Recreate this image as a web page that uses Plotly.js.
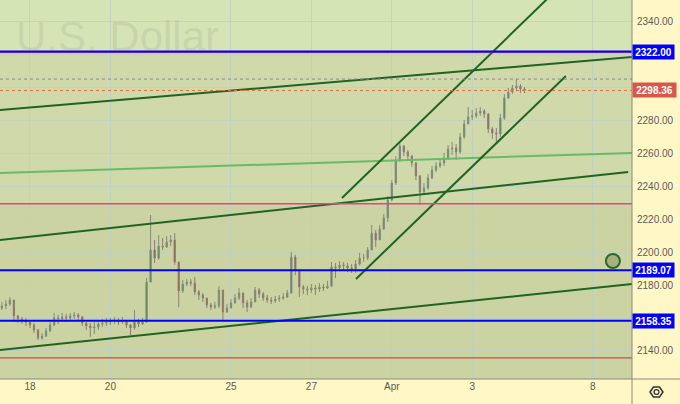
<!DOCTYPE html>
<html><head><meta charset="utf-8">
<script src="https://cdn.plot.ly/plotly-3.0.1.min.js"></script>
<style>html,body{margin:0;padding:0;background:#fff8c6}#chart{width:680px;height:404px}</style>
</head><body><div id="chart"></div>
<script>
// ---- axis ticks ----
const dayTicks = [0, 2, 5, 7, 9, 11, 14];
const dayLabels = ['18', '20', '25', '27', 'Apr', '3', '8'];
const priceTicks = [2140, 2160, 2180, 2200, 2220, 2240, 2260, 2280, 2300, 2320, 2340];
const hiddenPriceTicks = [2160, 2300, 2320];

// ---- candles (trading-day index time axis) ----
const startDay = -0.7, barStep = 0.1;
const open = [2166.1,2167.4,2168.6,2171.0,2161.3,2159.5,2158.2,2157.6,2155.8,2152.8,
 2147.9,2149.1,2152.2,2155.8,2160.1,2159.5,2160.7,2160.1,2161.3,2161.9,
 2160.7,2157.0,2155.2,2154.0,2154.6,2156.4,2157.0,2157.6,2158.2,2158.8,
 2157.6,2158.2,2155.8,2154.0,2157.6,2156.4,2157.6,2181.9,2201.4,2196.5,
 2203.8,2203.2,2206.3,2207.5,2194.1,2176.5,2180.7,2181.9,2181.3,2175.9,
 2174.0,2172.2,2168.0,2166.7,2167.4,2177.1,2163.7,2166.1,2169.2,2172.2,
 2175.3,2169.2,2166.7,2169.8,2177.1,2174.6,2172.2,2171.0,2170.4,2171.6,
 2172.2,2172.8,2175.3,2197.1,2189.2,2178.9,2177.7,2177.1,2178.3,2177.7,
 2178.9,2178.3,2179.5,2191.1,2190.5,2192.3,2191.7,2190.5,2189.2,2192.9,
 2196.5,2196.5,2201.4,2211.7,2207.5,2214.2,2220.9,2231.8,2242.1,2256.1,
 2264.6,2261.0,2258.5,2254.3,2246.4,2236.7,2239.1,2245.2,2250.0,2252.5,
 2254.3,2257.3,2262.8,2263.4,2261.0,2270.1,2278.0,2282.3,2282.9,2284.7,
 2285.9,2284.1,2275.0,2272.5,2271.9,2281.6,2293.8,2297.4,2299.9,2301.1,
 2299.3];
const high = [2169.8,2171.0,2172.8,2171.0,2161.9,2160.7,2160.1,2158.8,2157.0,2153.4,
 2150.9,2154.0,2157.6,2163.1,2161.9,2163.1,2162.5,2163.1,2163.7,2163.1,
 2161.3,2157.6,2157.0,2157.6,2158.8,2159.5,2160.1,2160.1,2160.7,2160.1,
 2160.7,2158.8,2156.4,2164.9,2159.5,2160.1,2184.4,2222.7,2207.5,2210.5,
 2208.7,2209.9,2210.5,2211.7,2194.1,2183.2,2183.8,2183.8,2185.0,2177.1,
 2175.3,2172.2,2169.2,2169.8,2179.5,2177.1,2168.6,2171.6,2174.6,2178.3,
 2175.3,2171.0,2172.2,2178.9,2178.3,2175.9,2174.0,2172.8,2173.4,2174.0,
 2175.3,2177.1,2200.2,2198.4,2189.2,2180.1,2179.5,2180.7,2180.1,2181.3,
 2180.7,2182.6,2194.1,2193.5,2194.7,2194.1,2193.5,2192.9,2195.3,2199.6,
 2199.0,2203.2,2216.6,2213.6,2216.6,2223.3,2234.2,2243.9,2258.5,2266.4,
 2265.2,2262.2,2259.2,2254.9,2247.0,2242.1,2247.6,2252.5,2254.9,2257.3,
 2260.4,2265.2,2267.1,2265.8,2272.5,2280.4,2288.3,2286.5,2287.7,2288.3,
 2287.1,2284.7,2276.2,2275.6,2284.1,2296.2,2299.9,2301.7,2305.3,2302.3,
 2300.5];
const low = [2164.9,2165.5,2167.4,2157.6,2157.0,2156.4,2155.2,2154.0,2150.9,2146.7,
 2146.7,2148.5,2151.5,2155.2,2156.4,2157.6,2157.6,2158.8,2159.5,2158.8,
 2155.2,2152.8,2148.5,2150.3,2152.8,2154.6,2155.2,2155.8,2156.4,2155.8,
 2156.4,2154.0,2149.7,2153.0,2154.6,2155.8,2157.0,2181.9,2193.5,2195.5,
 2201.4,2202.6,2203.8,2192.3,2166.7,2175.3,2179.5,2179.5,2174.0,2171.0,
 2169.8,2166.1,2164.9,2165.5,2166.1,2158.8,2163.1,2166.1,2168.6,2171.0,
 2166.1,2163.7,2166.1,2169.8,2172.2,2170.4,2169.2,2168.6,2169.2,2169.8,
 2171.0,2172.2,2174.6,2186.2,2172.8,2174.6,2174.0,2175.3,2174.0,2175.9,
 2176.5,2177.7,2178.9,2184.4,2189.2,2189.2,2188.0,2187.4,2187.4,2192.0,
 2194.1,2195.3,2201.4,2203.2,2207.5,2213.6,2218.4,2231.0,2240.9,2254.9,
 2258.5,2256.1,2251.9,2243.9,2228.8,2235.4,2237.9,2244.5,2248.8,2251.2,
 2252.5,2256.1,2259.1,2256.1,2259.8,2268.9,2278.0,2280.4,2281.6,2282.9,
 2281.6,2272.5,2268.9,2267.1,2270.1,2280.4,2293.2,2296.2,2298.1,2296.8,
 2296.8];
const close = [2167.4,2168.6,2171.0,2161.3,2159.5,2158.2,2157.6,2155.8,2152.8,2147.9,
 2149.1,2152.2,2155.8,2160.1,2159.5,2160.7,2160.1,2161.3,2161.9,2160.7,
 2157.0,2155.2,2154.0,2154.6,2156.4,2157.0,2157.6,2158.2,2158.8,2157.6,
 2158.2,2155.8,2154.0,2157.6,2156.4,2157.6,2181.9,2201.4,2196.5,2203.8,
 2203.2,2206.3,2207.5,2194.1,2176.5,2180.7,2181.9,2181.3,2175.9,2174.0,
 2172.2,2168.0,2166.7,2167.4,2177.1,2163.7,2166.1,2169.2,2172.2,2175.3,
 2169.2,2166.7,2169.8,2177.1,2174.6,2172.2,2171.0,2170.4,2171.6,2172.2,
 2172.8,2175.3,2197.1,2189.2,2178.9,2177.7,2177.1,2178.3,2177.7,2178.9,
 2178.3,2179.5,2191.1,2190.5,2192.3,2191.7,2190.5,2189.2,2192.9,2196.5,
 2196.5,2201.4,2211.7,2207.5,2214.2,2220.9,2231.8,2242.1,2256.1,2264.6,
 2261.0,2258.5,2254.3,2246.4,2236.7,2239.1,2245.2,2250.0,2252.5,2254.3,
 2257.3,2262.8,2263.4,2261.0,2270.1,2278.0,2282.3,2282.9,2284.7,2285.9,
 2284.1,2275.0,2272.5,2271.9,2281.6,2293.8,2297.4,2299.9,2301.1,2299.3,
 2298.36];

// ---- horizontal levels ----
const blueLevels = [2322.00, 2189.07, 2158.35];
const pinkLevel = 2229.5;
const redLevel = 2135.8;
const sessionHigh = 2305.3;
const lastPrice = 2298.36;
const zoneTop = 2322.00;

// ---- trend lines [day, price] endpoints ----
const wideTopX = [-0.75, 14.98], wideTopY = [2286.5, 2318.7];
const wideMidX = [-0.75, 14.88], wideMidY = [2207.5, 2248.8];
const wideLowX = [-0.75, 14.98], wideLowY = [2140.6, 2180.7];
const lightX = [-0.75, 14.98], lightY = [2248.2, 2260.4];
const steepTopX = [7.76, 12.95], steepTopY = [2233.0, 2356.0];
const steepLowX = [8.11, 13.33], steepLowY = [2183.8, 2307.2];
const markerX = [14.5], markerY = [2194.7];

const barX = open.map((_, i) => +(startDay + i * barStep).toFixed(2));

const dark = '#1f6422';
const traces = [
  {type:'candlestick', x: barX, open, high, low, close,
   increasing:{line:{color:'#858c7c', width:1}, fillcolor:'#3f8a4a'},
   decreasing:{line:{color:'#8c8076', width:1}, fillcolor:'#9a4636'},
   whiskerwidth:0, hoverinfo:'skip', showlegend:false},
  {type:'scatter', mode:'lines', x: lightX, y: lightY, line:{color:'#69bb69', width:2}, showlegend:false},
  {type:'scatter', mode:'lines', x: wideTopX, y: wideTopY, line:{color:dark, width:2}, showlegend:false},
  {type:'scatter', mode:'lines', x: wideMidX, y: wideMidY, line:{color:dark, width:2}, showlegend:false},
  {type:'scatter', mode:'lines', x: wideLowX, y: wideLowY, line:{color:dark, width:2}, showlegend:false},
  {type:'scatter', mode:'lines', x: steepTopX, y: steepTopY, line:{color:dark, width:2}, showlegend:false},
  {type:'scatter', mode:'lines', x: steepLowX, y: steepLowY, line:{color:dark, width:2}, showlegend:false},
  {type:'scatter', mode:'markers', x: markerX, y: markerY,
   marker:{size:14, color:'#a5b27c', line:{color:'#2a6a2a', width:2}}, showlegend:false}
];

const shapes = [
  {type:'rect', xref:'paper', x0:0, x1:1, yref:'y', y0:zoneTop, y1:2400, fillcolor:'#d5e4b5', line:{width:0}, layer:'below'},
  {type:'rect', xref:'paper', x0:0, x1:1, yref:'y', y0:2000, y1:pinkLevel, fillcolor:'#cbd3a3', line:{width:0}, layer:'below'},
  {type:'line', xref:'paper', x0:0, x1:1, yref:'y', y0:pinkLevel, y1:pinkLevel, line:{color:'#e8408c', width:1.5}},
  {type:'line', xref:'paper', x0:0, x1:1, yref:'y', y0:redLevel, y1:redLevel, line:{color:'#c0504d', width:1.2}},
  {type:'line', xref:'paper', x0:0, x1:1, yref:'y', y0:sessionHigh, y1:sessionHigh, line:{color:'#8a8a80', width:1, dash:'dot'}},
  {type:'line', xref:'paper', x0:0, x1:1, yref:'y', y0:lastPrice, y1:lastPrice, line:{color:'#e0704e', width:1, dash:'dot'}},
  {type:'line', xref:'paper', x0:0, x1:1, yref:'y', y0:zoneTop - 0.6, y1:zoneTop - 0.6, line:{color:'#c04050', width:1}}
];
blueLevels.forEach(v => shapes.push({type:'line', xref:'paper', x0:0, x1:1, yref:'y', y0:v, y1:v, line:{color:'#0000ff', width:2}}));
// frame separators and settings icon
shapes.push({type:'line', xref:'paper', yref:'paper', x0:1, x1:1, y0:-0.07, y1:1, line:{color:'#8a8a80', width:1}});
shapes.push({type:'line', xref:'paper', yref:'paper', x0:0, x1:1.08, y0:0, y1:0, line:{color:'#8a8a80', width:1}});
shapes.push({type:'path', xref:'paper', yref:'paper',
  path:'M1.0285,-0.0343 L1.0340,-0.0211 L1.0435,-0.0211 L1.0490,-0.0343 L1.0435,-0.0475 L1.0340,-0.0475 Z',
  line:{color:'#333', width:1.5}, fillcolor:'rgba(0,0,0,0)'});
shapes.push({type:'circle', xref:'paper', yref:'paper', x0:1.0349, x1:1.0427, y0:-0.0280, y1:-0.0406,
  line:{color:'#333', width:1.3}, fillcolor:'rgba(0,0,0,0)'});

const labelFont = {family:'Liberation Sans, Arial, sans-serif', size:10, color:'#ffffff'};
const annotations = [
  {xref:'paper', yref:'paper', x:0.022, y:0.905, xanchor:'left', yanchor:'middle', showarrow:false,
   text:'U.S. Dollar', font:{family:'Liberation Sans, Arial, sans-serif', size:42, color:'rgba(105,120,95,0.14)'}}
];
blueLevels.forEach(v => annotations.push({xref:'paper', yref:'y', x:1, y:v, xanchor:'left', yanchor:'middle',
  showarrow:false, text:'<b>' + v.toFixed(2) + '</b>', bgcolor:'#0000ff', borderpad:1.5, width:38, font:labelFont}));
annotations.push({xref:'paper', yref:'y', x:1, y:lastPrice, xanchor:'left', yanchor:'middle',
  showarrow:false, text:'<b>' + lastPrice.toFixed(2) + '</b>', bgcolor:'#d9574a', borderpad:1.5, width:40, font:labelFont});

const layout = {
  width:680, height:404,
  margin:{l:0, r:48, t:0, b:25, pad:0},
  paper_bgcolor:'#fff8c6', plot_bgcolor:'#cfd9aa',
  font:{family:'Liberation Sans, Arial, sans-serif', size:10, color:'#5a5a5a'},
  showlegend:false,
  boxgap:0.55,
  xaxis:{range:[-0.746, 14.975], tickmode:'array', tickvals:dayTicks, ticktext:dayLabels,
    showgrid:true, gridcolor:'rgba(190,206,200,0.75)', gridwidth:1, zeroline:false,
    rangeslider:{visible:false}, ticks:'', showline:false, fixedrange:true,
    tickfont:{size:10, color:'#5a5a5a'}},
  yaxis:{range:[2122.97, 2353.37], side:'right', tickmode:'array', tickvals:priceTicks,
    ticktext: priceTicks.map(v => hiddenPriceTicks.includes(v) ? '' : v.toFixed(2)),
    showgrid:true, gridcolor:'rgba(190,206,200,0.75)', gridwidth:1, zeroline:false,
    ticks:'', ticklabelstandoff:4, showline:false, fixedrange:true,
    tickfont:{size:10, color:'#5a5a5a'}},
  shapes, annotations
};

Plotly.newPlot('chart', traces, layout, {staticPlot:true, displayModeBar:false});
</script>
</body></html>
